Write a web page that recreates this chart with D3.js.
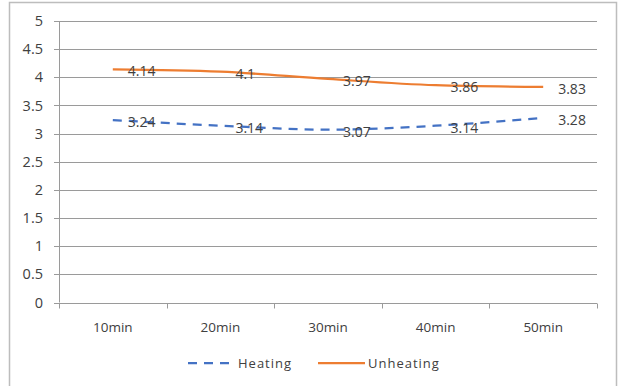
<!DOCTYPE html>
<html><head><meta charset="utf-8">
<script src="https://cdn.jsdelivr.net/npm/d3@7"></script>
<style>html,body{margin:0;padding:0;background:#fff;}</style>
</head><body>
<svg id="c" width="625" height="386"></svg>
<script>
const categories = ["10min","20min","30min","40min","50min"];
const heating = [3.24, 3.14, 3.07, 3.14, 3.28];
const unheating = [4.14, 4.1, 3.97, 3.86, 3.83];
const yTicks = [0,0.5,1,1.5,2,2.5,3,3.5,4,4.5,5];
const seriesNames = ["Heating","Unheating"];

const svg = d3.select("#c");
const font = "'Open Sans', 'Liberation Sans', sans-serif";
// outer border
svg.append("path").attr("d","M9.5,386 V2.5 H616.5 V386").attr("fill","none").attr("stroke","#bdbdbd").attr("stroke-width",1.5);

const L=59, R=597, T=21, B=302.5;
const x = d3.scaleBand().domain(categories).range([L,R]);
const y = d3.scaleLinear().domain([0,5]).range([B,T]);

// gridlines
svg.append("g").selectAll("line").data(yTicks).join("line")
  .attr("x1",L-5).attr("x2",R).attr("y1",d=>Math.round(y(d))+0.5).attr("y2",d=>Math.round(y(d))+0.5)
  .attr("stroke","#9a9a9a").attr("stroke-width",1);
// y axis line
svg.append("line").attr("x1",L+0.5).attr("x2",L+0.5).attr("y1",T).attr("y2",B).attr("stroke","#9a9a9a");
// x ticks
const bounds = categories.map(c=>x(c)).concat([R]);
svg.append("g").selectAll("line").data(bounds).join("line")
  .attr("x1",d=>Math.round(d)+0.5).attr("x2",d=>Math.round(d)+0.5)
  .attr("y1",Math.round(B)+0.5).attr("y2",Math.round(B)+5.5).attr("stroke","#9a9a9a");

// y labels
svg.append("g").selectAll("text").data(yTicks).join("text")
  .attr("x",43).attr("y",d=>y(d)).attr("dy","0.35em").attr("text-anchor","end")
  .attr("font-family",font).attr("font-size",14.5).attr("fill","#404040").text(d=>d);
// x labels
svg.append("g").selectAll("text").data(categories).join("text")
  .attr("x",d=>x(d)+x.bandwidth()/2).attr("y",327).attr("dy","0.35em").attr("text-anchor","middle")
  .attr("font-family",font).attr("font-size",13.5).attr("fill","#404040").text(d=>d);

const cx = (d,i)=>x(categories[i])+x.bandwidth()/2;
const line = d3.line().x((d,i)=>cx(d,i)).y(d=>y(d)).curve(d3.curveMonotoneX);

svg.append("path").datum(unheating).attr("d",line).attr("fill","none")
  .attr("stroke","#ED7D31").attr("stroke-width",2.25);
svg.append("path").datum(heating).attr("d",line).attr("fill","none")
  .attr("stroke","#4472C4").attr("stroke-width",2.25).attr("stroke-dasharray","9,7");

// data labels
function labels(data){
  svg.append("g").selectAll("text").data(data).join("text")
    .attr("x",(d,i)=>cx(d,i)+15).attr("y",d=>y(d)+2).attr("dy","0.35em")
    .attr("font-family",font).attr("font-size",14).attr("fill","#404040").text(d=>d);
}
labels(unheating);
labels(heating);

// legend
const lg = svg.append("g");
lg.append("line").attr("x1",188).attr("x2",234).attr("y1",363).attr("y2",363)
  .attr("stroke","#4472C4").attr("stroke-width",2.25).attr("stroke-dasharray","9,7");
lg.append("text").attr("x",238).attr("y",363).attr("dy","0.35em").attr("font-family",font)
  .attr("font-size",13).attr("fill","#404040").attr("letter-spacing","1").text(seriesNames[0]);
lg.append("line").attr("x1",318).attr("x2",365).attr("y1",363).attr("y2",363)
  .attr("stroke","#ED7D31").attr("stroke-width",2.25);
lg.append("text").attr("x",368).attr("y",363).attr("dy","0.35em").attr("font-family",font)
  .attr("font-size",13).attr("fill","#404040").attr("letter-spacing","1").text(seriesNames[1]);
</script>
</body></html>
